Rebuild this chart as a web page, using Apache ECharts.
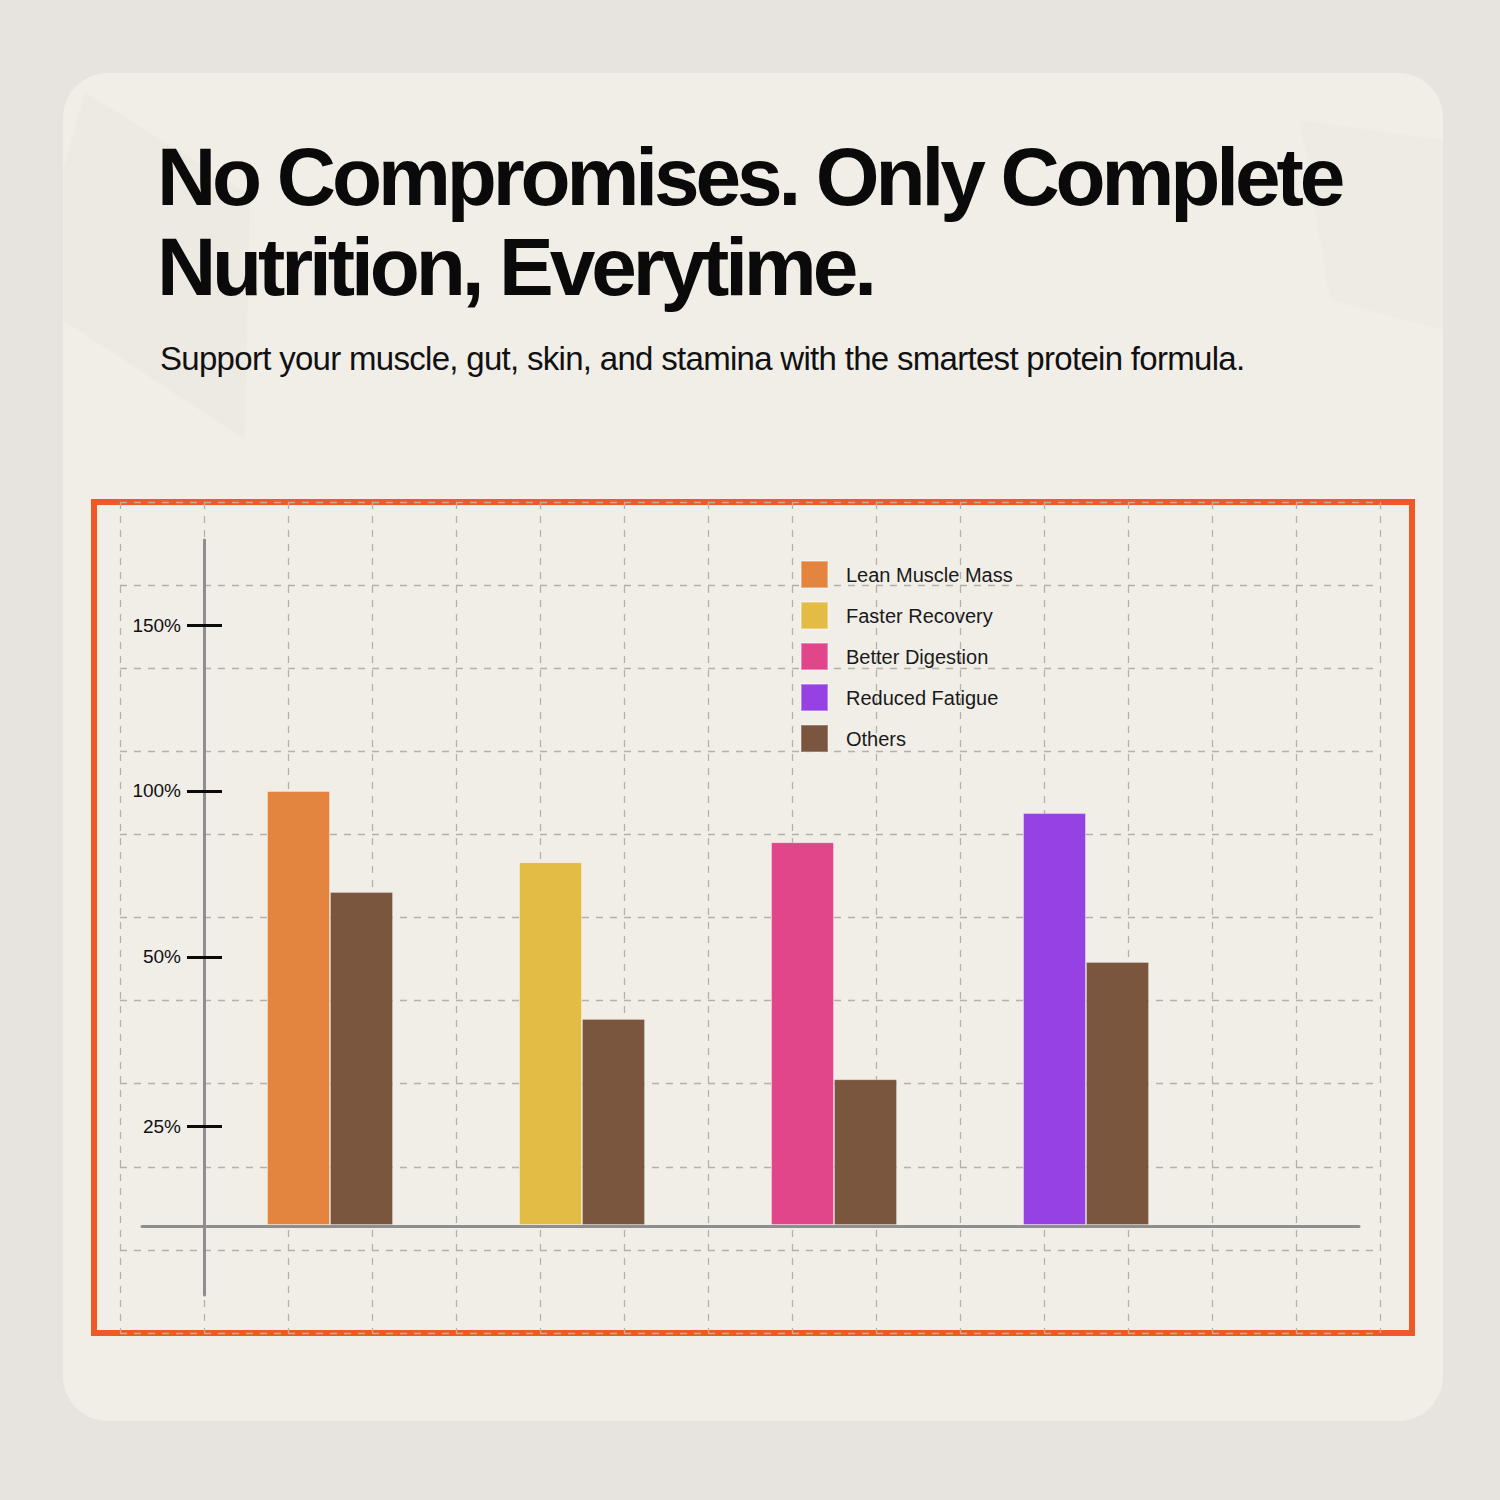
<!DOCTYPE html>
<html>
<head>
<meta charset="utf-8">
<script src="https://cdn.jsdelivr.net/npm/echarts@6/dist/echarts.min.js"></script>
<style>
  html, body { margin: 0; padding: 0; background: #E7E4DF; }
  #chart { width: 1500px; height: 1500px; }
  #chart text[style*="82px"] { letter-spacing: -4.1px; }
  #chart text[style*="33px"] { letter-spacing: -0.7px; }
</style>
</head>
<body>
<div id="chart"></div>
<script>
// ---- data ----
var categories = ['Lean Muscle Mass', 'Faster Recovery', 'Better Digestion', 'Reduced Fatigue'];
var benefitValues = [100, 83.6, 88.2, 94.9];
var othersValues = [76.7, 47.5, 33.6, 60.6];
var othersName = 'Others';
var tickValues = [22.8, 61.8, 100, 138.2];
var tickLabels = ['25%', '50%', '100%', '150%'];
var benefitColors = ['#E3843F', '#E2BC45', '#E2468A', '#9541E3'];
var othersColor = '#7A563E';

var titleText = 'No Compromises. Only Complete\nNutrition, Everytime.';
var subtitleText = 'Support your muscle, gut, skin, and stamina with the smartest protein formula.';

var FONT = "'Liberation Sans', Arial, sans-serif";

var chart = echarts.init(document.getElementById('chart'), null, { renderer: 'svg' });

var series = categories.map(function (name, i) {
  return {
    name: name,
    type: 'bar',
    stack: 'benefit',
    xAxisIndex: 0,
    yAxisIndex: 0,
    barWidth: 63,
    barGap: '0%',
    itemStyle: { color: benefitColors[i], borderColor: 'rgba(255,255,255,0.35)', borderWidth: 1 },
    data: categories.map(function (c, j) { return j === i ? benefitValues[j] : null; })
  };
});
series.push({
  name: othersName,
  type: 'bar',
  xAxisIndex: 0,
  yAxisIndex: 0,
  barWidth: 63,
  barGap: '0%',
  itemStyle: { color: othersColor, borderColor: 'rgba(255,255,255,0.25)', borderWidth: 1 },
  data: othersValues
});

var dashStyle = { color: '#b4b1ac', width: 1.3, type: [7, 7] };

var option = {
  backgroundColor: '#E7E4DF',
  animation: false,
  graphic: [
    {
      type: 'rect', z: -100,
      shape: { x: 63, y: 73, width: 1380, height: 1348, r: 45 },
      style: { fill: '#F1EEE8' }
    },
    {
      type: 'polygon', z: -99,
      shape: { points: [[63, 170], [85, 92], [250, 195], [245, 440], [63, 320]] },
      style: { fill: 'rgba(120,110,95,0.03)' }
    },
    {
      type: 'polygon', z: -99,
      shape: { points: [[1300, 120], [1443, 140], [1443, 330], [1330, 300]] },
      style: { fill: 'rgba(120,110,95,0.025)' }
    },
    {
      type: 'rect', z: -50,
      shape: { x: 94, y: 502, width: 1318, height: 831 },
      style: { fill: 'none', stroke: '#EE5A26', lineWidth: 6 }
    }
  ],
  title: [
    {
      text: titleText,
      left: 152,
      top: 126,
      textStyle: { fontFamily: FONT, fontWeight: 'bold', fontSize: 82, lineHeight: 90, color: '#0a0a0a' }
    },
    {
      text: subtitleText,
      left: 155,
      top: 336,
      textStyle: { fontFamily: FONT, fontWeight: 'normal', fontSize: 33, lineHeight: 34, color: '#111111' }
    }
  ],
  legend: {
    orient: 'vertical',
    left: 800,
    top: 560,
    padding: 0,
    itemWidth: 27,
    itemHeight: 27,
    itemGap: 12,
    icon: 'rect',
    data: categories.concat([othersName]),
    textStyle: { fontFamily: FONT, fontSize: 20, lineHeight: 27, color: '#1a1a1a', padding: [0, 0, 0, 13] }
  },
  grid: [
    { left: 204, right: 288, top: 540, bottom: 205 },
    { left: 142, right: 141, top: 1200, bottom: 273.5 },
    { left: 120, right: 120, top: 502, bottom: 167 }
  ],
  xAxis: [
    {
      gridIndex: 0, type: 'category', data: categories,
      axisLine: { show: false }, axisTick: { show: false }, axisLabel: { show: false }, splitLine: { show: false }
    },
    {
      gridIndex: 1, type: 'value', min: 0, max: 1,
      axisLine: { show: true, onZero: false, lineStyle: { color: '#8e8e8e', width: 3 } },
      axisTick: { show: false }, axisLabel: { show: false }, splitLine: { show: false }
    },
    {
      gridIndex: 2, type: 'value', min: 0, max: 15, interval: 1,
      axisLine: { show: false }, axisTick: { show: false }, axisLabel: { show: false },
      splitLine: { show: true, lineStyle: dashStyle }
    }
  ],
  yAxis: [
    {
      gridIndex: 0, type: 'value', min: -16.1, max: 157.8, position: 'left',
      axisLine: { show: true, lineStyle: { color: '#8e8e8e', width: 3 } },
      axisTick: { show: true, inside: false, length: 17, customValues: tickValues, lineStyle: { color: '#0a0a0a', width: 3 } },
      axisLabel: {
        show: true, margin: 23, customValues: tickValues,
        fontFamily: FONT, fontSize: 19, color: '#111111',
        formatter: function (v) {
          var k = tickValues.indexOf(v);
          return k >= 0 ? tickLabels[k] : '';
        }
      },
      splitLine: { show: false }
    },
    {
      gridIndex: 0, type: 'value', min: -16.1, max: 157.8, position: 'left', offset: 0,
      axisLine: { show: false },
      axisTick: { show: true, inside: true, length: 18, customValues: tickValues, lineStyle: { color: '#0a0a0a', width: 3 } },
      axisLabel: { show: false },
      splitLine: { show: false }
    },
    {
      gridIndex: 1, type: 'value', min: 0, max: 1, show: false
    },
    {
      gridIndex: 2, type: 'value', min: 0, max: 10, interval: 1,
      axisLine: { show: false }, axisTick: { show: false }, axisLabel: { show: false },
      splitLine: { show: true, lineStyle: dashStyle }
    }
  ],
  series: series
};

chart.setOption(option);
</script>
</body>
</html>
